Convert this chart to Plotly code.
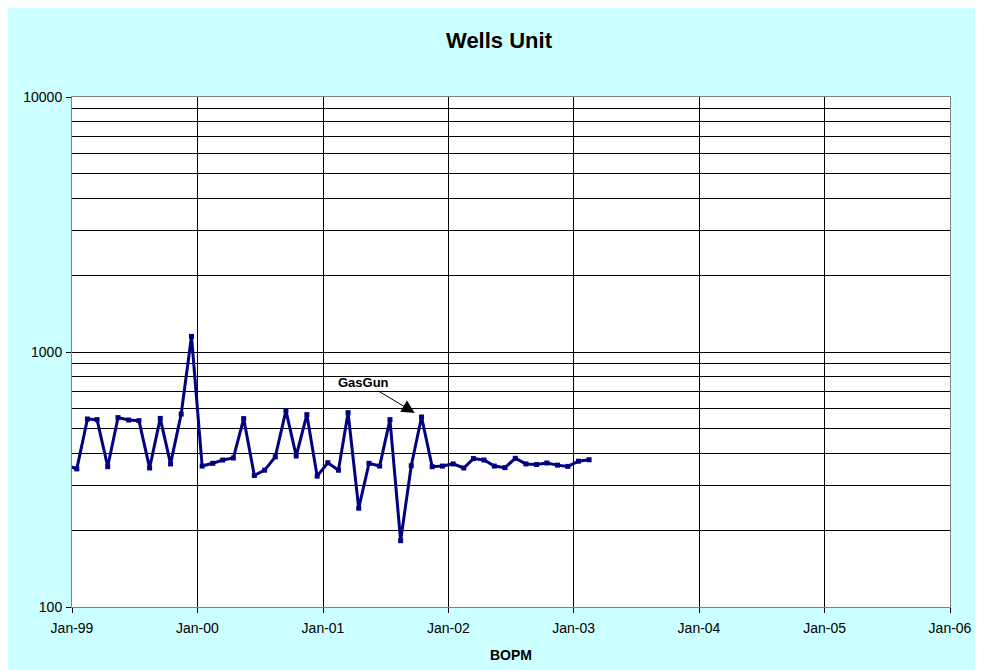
import math
import pandas as pd
import plotly.graph_objects as go

# monthly production, mid-month readings, Dec-98 .. Feb-03
months = pd.date_range("1998-12-01", "2003-02-01", freq="MS") + pd.Timedelta(days=14)
bopm = [
    360,
    348, 546, 543, 355, 553, 541, 538, 351, 549, 364, 571, 1151,
    357, 366, 377, 384, 548, 328, 344, 388, 589, 391, 568, 326,
    368, 344, 578, 244, 366, 357, 543, 182, 358, 556, 355, 357,
    364, 351, 382, 377, 357, 352, 383, 364, 362, 367, 360, 356,
    373, 378,
]
year_ticks = [f"{y}-01-01" for y in range(1999, 2007)]
major_y = [100, 1000, 10000]
minor_y = [m * d for d in (100, 1000) for m in range(2, 10)]
note_label = "GasGun"
note_date = "2001-10-15"
note_value = 556

FONT = "Liberation Sans, Arial, sans-serif"
GRID = "#000000"
W, H = 967, 662

fig = go.Figure()
fig.add_trace(
    go.Scatter(
        x=months,
        y=bopm,
        mode="lines+markers",
        line=dict(color="#000080", width=3),
        marker=dict(symbol="square", size=5, color="#000080"),
        showlegend=False,
    )
)

fig.add_annotation(
    x=note_date,
    y=math.log10(note_value),
    text=f"<b>{note_label}</b>",
    showarrow=True,
    arrowhead=2,
    arrowsize=2.6,
    arrowwidth=1,
    arrowcolor="black",
    standoff=8,
    ax=-58,
    ay=-35,
    font=dict(family=FONT, size=13, color="black"),
)

# right margin leaves room for the last "Jan-06" label inside the page
fig.update_layout(
    width=W,
    height=H,
    margin=dict(l=64, r=25, t=89, b=63),
    paper_bgcolor="#CCFFFF",
    plot_bgcolor="white",
    font=dict(family=FONT, size=14, color="black"),
    title=dict(
        text="<b>Wells Unit</b>",
        x=(499 - 8) / W,
        xref="container",
        y=1 - (40 - 8) / H,
        yref="container",
        yanchor="middle",
        font=dict(family=FONT, size=22, color="black"),
    ),
    xaxis=dict(
        type="date",
        range=[year_ticks[0], year_ticks[-1]],
        tickvals=year_ticks,
        tickformat="%b-%y",
        ticks="outside",
        ticklen=5,
        tickcolor="black",
        ticklabelstandoff=3,
        ticklabeloverflow="allow",
        automargin=False,
        showgrid=True,
        gridcolor=GRID,
        gridwidth=1,
        showline=True,
        linecolor="#808080",
        linewidth=1,
        mirror=True,
        zeroline=False,
        title=dict(text="<b>BOPM</b>", font=dict(family=FONT, size=14), standoff=15),
    ),
    yaxis=dict(
        type="log",
        range=[2, 4],
        tickvals=major_y,
        ticktext=[str(v) for v in major_y],
        ticks="outside",
        ticklen=5,
        tickcolor="black",
        ticklabelstandoff=1,
        automargin=False,
        showgrid=True,
        gridcolor=GRID,
        gridwidth=1,
        minor=dict(tickvals=minor_y, showgrid=True, gridcolor=GRID, gridwidth=1, ticks=""),
        showline=True,
        linecolor="#808080",
        linewidth=1,
        mirror=True,
        zeroline=False,
    ),
)

fig.write_html("out.html")
